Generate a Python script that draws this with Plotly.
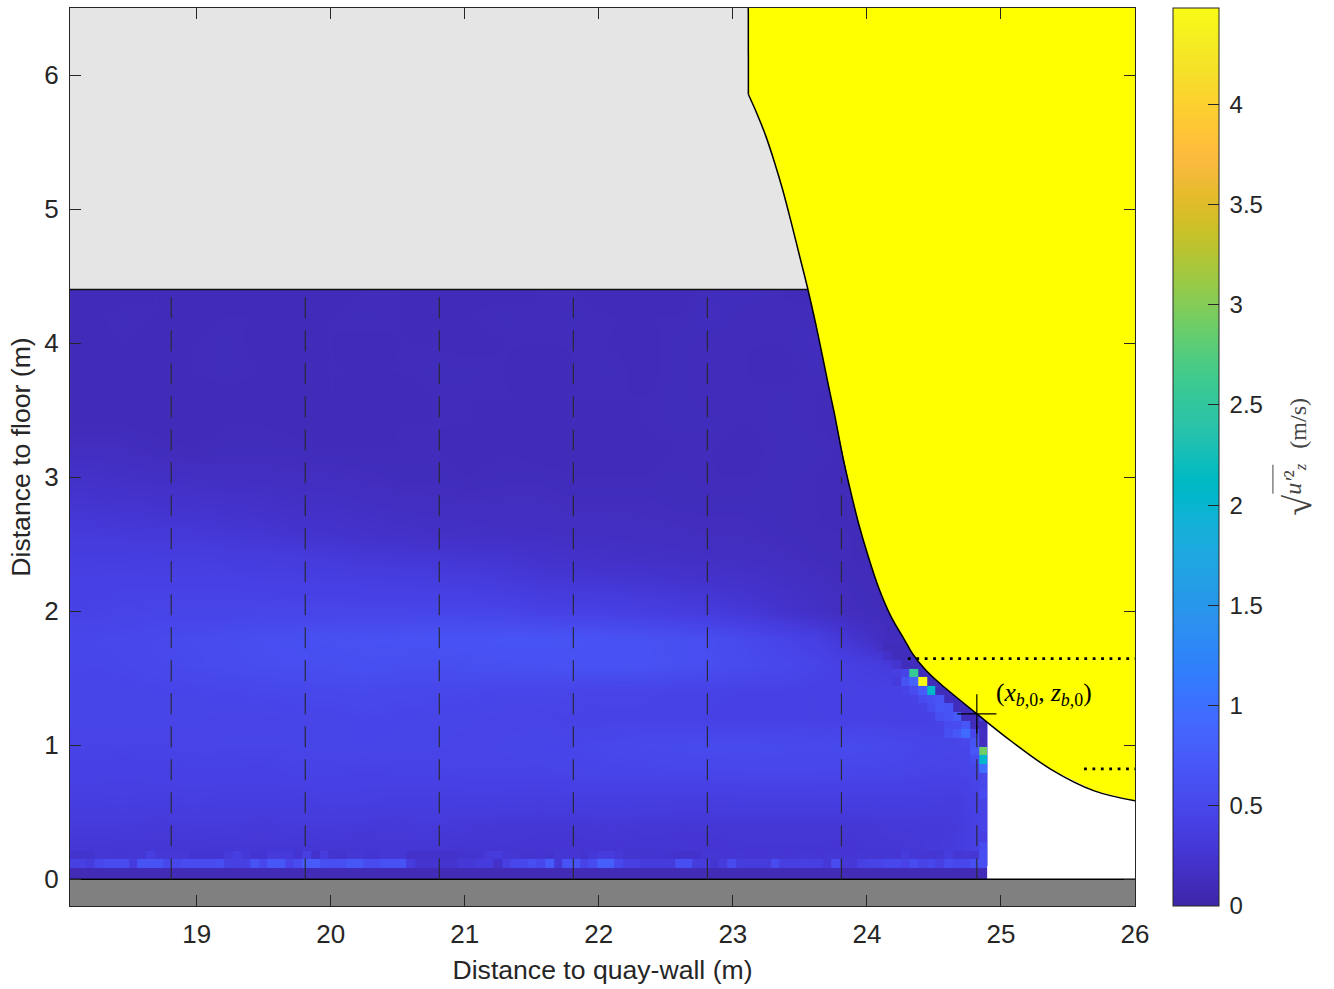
import plotly.graph_objects as go

TEXT = "#262626"
SANS = "Liberation Sans"
SERIF = "Liberation Serif"

# parula colormap
parula = [
(0.2422,0.1504,0.6603),(0.2504,0.1650,0.7076),(0.2578,0.1818,0.7511),(0.2647,0.1978,0.7952),
(0.2706,0.2147,0.8364),(0.2751,0.2342,0.8710),(0.2783,0.2559,0.8991),(0.2803,0.2782,0.9221),
(0.2813,0.3006,0.9414),(0.2810,0.3228,0.9579),(0.2795,0.3447,0.9717),(0.2760,0.3667,0.9829),
(0.2699,0.3892,0.9906),(0.2602,0.4123,0.9952),(0.2440,0.4358,0.9988),(0.2206,0.4603,0.9973),
(0.1963,0.4847,0.9892),(0.1834,0.5074,0.9798),(0.1786,0.5289,0.9682),(0.1764,0.5499,0.9520),
(0.1687,0.5703,0.9359),(0.1540,0.5902,0.9218),(0.1460,0.6091,0.9079),(0.1380,0.6276,0.8973),
(0.1248,0.6459,0.8883),(0.1113,0.6635,0.8763),(0.0952,0.6798,0.8598),(0.0689,0.6948,0.8394),
(0.0297,0.7082,0.8163),(0.0036,0.7203,0.7917),(0.0067,0.7312,0.7660),(0.0433,0.7411,0.7394),
(0.0964,0.7500,0.7120),(0.1408,0.7584,0.6842),(0.1717,0.7670,0.6554),(0.1938,0.7758,0.6251),
(0.2161,0.7843,0.5923),(0.2470,0.7918,0.5567),(0.2906,0.7973,0.5188),(0.3406,0.8008,0.4789),
(0.3909,0.8029,0.4354),(0.4456,0.8024,0.3909),(0.5044,0.7993,0.3480),(0.5616,0.7942,0.3045),
(0.6174,0.7876,0.2612),(0.6720,0.7793,0.2227),(0.7242,0.7698,0.1910),(0.7738,0.7598,0.1646),
(0.8203,0.7498,0.1535),(0.8634,0.7406,0.1596),(0.9035,0.7330,0.1774),(0.9393,0.7288,0.2100),
(0.9728,0.7298,0.2394),(0.9956,0.7434,0.2371),(0.9970,0.7659,0.2199),(0.9952,0.7893,0.2028),
(0.9892,0.8136,0.1885),(0.9786,0.8386,0.1766),(0.9676,0.8639,0.1643),(0.9610,0.8890,0.1537),
(0.9597,0.9135,0.1423),(0.9628,0.9373,0.1265),(0.9691,0.9606,0.1064),(0.9769,0.9839,0.0805)]
colorscale = [[i / 63, "rgb(%d,%d,%d)" % tuple(round(c * 255) for c in p)] for i, p in enumerate(parula)]

U_MAX = 4.48

# Velocity field (m/s x 100), coarse table
field_x = [18.18,18.44,18.70,18.96,19.22,19.48,19.74,20.00,20.26,20.51,20.77,21.03,21.29,21.55,
           21.81,22.07,22.33,22.58,22.84,23.10,23.36,23.62,23.88,24.14,24.40,24.66,24.87]
field_z = [0.2,0.4,0.6,0.8,1.0,1.2,1.4,1.6,1.8,2.0,2.2,2.4,2.6,2.8,3.0,3.2,3.4,3.6,3.8,4.0,4.2,4.4]
field_u = [
[28,27,28,27,28,28,28,27,27,28,27,26,27,27,27,26,26,26,27,27,27,27,27,28,30,34,45],
[32,32,31,32,32,31,32,32,31,31,32,30,29,28,28,30,29,28,28,29,29,29,28,30,31,32,46],
[38,39,38,39,38,38,38,39,39,38,38,38,38,37,38,38,38,37,37,38,38,38,38,38,38,36,46],
[42,41,42,43,43,42,44,44,43,44,44,45,45,45,46,47,47,48,48,49,49,49,47,47,45,44,48],
[45,45,45,45,46,46,46,46,47,46,46,45,46,47,48,50,52,53,54,54,53,52,54,52,48,46,50],
[46,46,46,46,45,45,46,46,48,47,46,46,45,45,44,44,44,44,43,42,43,42,42,42,42,44,50],
[46,46,47,47,48,49,50,51,52,50,50,49,47,47,46,45,45,44,44,43,43,42,41,42,45,55,12],
[48,49,51,53,55,57,58,59,60,59,58,60,61,62,63,64,63,60,57,54,51,46,40,35,22,12,12],
[49,50,52,54,56,58,60,61,62,63,64,64,66,66,65,64,62,60,57,52,46,40,26,13,12,12,12],
[44,45,46,46,46,47,47,47,47,47,48,48,47,43,42,41,39,36,34,30,24,18,13,11,11,11,11],
[42,43,43,43,43,42,41,41,40,39,38,37,34,31,30,29,28,26,24,22,18,15,12,11,11,11,11],
[38,38,37,37,36,35,34,32,30,29,28,27,26,23,21,19,18,17,16,15,14,12,11,10,10,10,10],
[32,31,30,30,28,27,24,23,21,19,18,17,16,16,15,15,14,14,13,13,12,11,11,10,10,10,10],
[26,25,24,23,22,20,18,18,16,15,14,14,14,14,13,13,13,12,12,12,12,11,10,10,10,10,10],
[20,18,17,16,15,15,14,14,13,12,12,11,12,12,11,11,11,12,11,11,12,11,10,10,10,10,10],
[14,14,12,11,12,12,12,11,11,11,11,10,11,10,10,10,10,11,11,10,12,12,10,10,10,10,10],
[11,11,10,10,11,11,10,10,10,11,11,11,10,10,11,10,11,12,12,11,12,11,10,10,10,10,10],
[10,10,10,10,10,10,10,11,10,10,11,11,11,11,11,11,11,12,11,11,12,11,10,10,10,10,10],
[10,10,10,11,12,11,10,11,11,11,12,12,11,10,11,12,10,12,11,11,10,12,10,10,10,10,10],
[10,11,10,11,12,10,11,11,10,11,11,10,11,11,11,11,10,12,11,11,11,13,10,10,10,10,10],
[10,12,11,10,11,11,10,11,12,11,10,11,12,11,12,11,11,11,13,11,11,12,10,10,10,10,10],
[10,10,11,10,10,10,10,10,11,11,10,10,10,11,11,10,10,10,12,13,11,10,10,10,10,10,10]]

# Near-floor rows at measured cell size (m/s), left to right
row1_u = [.42,.42,.35,.50,.55,.55,.55,.35,.65,.65,.65,.50,.50,.55,.55,.55,.55,.60,.42,.42,.42,.65,.50,.70,.70,
          .45,.55,.75,.75,.60,.60,.60,.70,.70,.55,.55,.62,.62,.62,.35,.25,.25,.25,.25,.25,
          .30,.30,.35,.35,.20,.40,.50,.50,.60,.50,.75,.30,.65,.65,.45,.55,.80,.80,.50,.40,.40,.35,.35,.35,.35,
          .60,.60,.35,.35,.25,.35,.55,.35,.35,.35,.35,.55,.40,.40,.40,.40,.40,.30,.55,.30,.30,
          .42,.45,.45,.50,.50,.45,.55,.45,.50,.40,.55,.50,.50,.60,.60]
row2_u = [.24,.24,.24,.28,.28,.28,.28,.28,.28,.38,.30,.30,.30,.30,.26,.26,.26,.26,.32,.38,.30,.26,.26,.32,.32,
          .32,.26,.40,.22,.36,.24,.24,.28,.28,.26,.26,.29,.29,.28,.20,.22,.22,.22,.22,.22,
          .24,.24,.26,.32,.36,.28,.28,.24,.24,.26,.24,.28,.27,.27,.24,.30,.36,.36,.30,.25,.25,.25,.26,.26,.24,
          .22,.22,.22,.28,.28,.27,.27,.28,.27,.27,.27,.28,.27,.27,.28,.28,.27,.28,.28,.27,.27,
          .28,.28,.27,.28,.27,.34,.29,.28,.27,.28,.36,.28,.30,.28,.60]
floor_row_u = 0.09

# Isolated cells along the bubble and wall: column from the wall, row from the floor, value
near_cells = [
(8,23,2.56),(7,22,4.48),(6,21,2.08),(0,14,2.90),(0,13,2.05),(0,12,1.00),
(9,23,.45),(10,23,.40),(8,22,.85),(9,22,.65),(10,22,.32),(7,21,.75),(8,21,.55),(9,21,.45),
(5,20,.65),(6,20,.60),(7,20,.55),(4,19,.65),(5,19,.70),(6,19,.55),(3,18,.75),(4,18,.65),(5,18,.60),
(2,17,.70),(3,17,.55),(4,17,.55),(2,16,.95),(3,16,.70),(4,16,.60),(1,16,.50),(1,15,.65),(2,15,.50),
(1,14,.70),(1,13,.55),
(0,11,.50),(0,10,.50),(0,9,.55),(0,8,.45),(0,7,.45),(0,6,.45),(0,5,.45),(0,4,.40),(0,3,.55),
(0,15,.15),(0,16,.15),(0,17,.12),(1,17,.12),(1,18,.12),(2,18,.12),(2,19,.12),(3,19,.12),
(3,20,.12),(4,20,.12),(3,21,.12),(4,21,.12),(5,21,.12),(5,22,.12),(6,22,.12),(6,23,.12),(7,23,.12),
(7,24,.12),(8,24,.12),(9,24,.12),(10,24,.25),(8,25,.12),(9,25,.12),(10,25,.12),(11,25,.20),
(9,26,.12),(10,26,.12),(11,26,.12),(12,26,.18)]

CELL = 0.0647
FIRST_ROW = 0.084
N_COLS, N_ROWS = 106, 68
WALL_X = 24.9

# Outlines in data units
bubble_x = [23.115,23.116,23.172,23.246,23.308,23.371,23.433,23.495,23.557,23.619,23.669,23.719,23.756,
            23.819,23.881,23.943,24.005,24.092,24.179,24.278,24.343,24.440,24.552,24.821,25.075,25.373,25.696,26.0]
bubble_z = [6.5,5.855,5.73,5.544,5.357,5.146,4.91,4.661,4.413,4.139,3.90,3.654,3.481,
            3.157,2.884,2.635,2.424,2.163,1.961,1.79,1.678,1.559,1.454,1.233,1.031,.82,.659,.585]
X_MIN, X_MAX, Z_MIN, Z_MAX = 18.055, 26.0, -0.2, 6.5
WATER_TOP = 4.4
profile_x = [18.81,19.81,20.81,21.81,22.81,23.81,24.82]
profile_top = [4.4,4.4,4.4,4.4,4.4,3.0,1.23]
dotted_a = ([24.306,26.0],[1.646,1.646])
dotted_b = ([25.62,26.0],[.823,.823])
impact_x, impact_z = 24.82, 1.233

x_ticks = [19,20,21,22,23,24,25,26]
z_ticks = [0,1,2,3,4,5,6]
cb_ticks = [0,.5,1,1.5,2,2.5,3,3.5,4]
cb_labels = ["0","0.5","1","1.5","2","2.5","3","3.5","4"]

fig = go.Figure()

# coarse field
fig.add_trace(go.Heatmap(
    x=field_x, y=field_z, z=[[v / 100 for v in r] for r in field_u],
    zsmooth="best", zmin=0, zmax=U_MAX, colorscale=colorscale, hoverinfo="skip",
    colorbar=dict(
        x=(1173 - 69.5) / 1065.5, xanchor="left", xpad=0, y=0, yanchor="bottom", ypad=0,
        len=1, lenmode="fraction", thickness=46, thicknessmode="pixels",
        outlinewidth=1, outlinecolor=TEXT, ticks="inside", ticklen=11, tickwidth=1, tickcolor=TEXT,
        tickvals=cb_ticks, ticktext=["\u2009" + s for s in cb_labels],
        tickfont=dict(family=SANS, size=24, color=TEXT),
        ticklabelposition="outside")))

# fine cells
x_edges = [WALL_X - CELL * (N_COLS - i) for i in range(N_COLS + 1)]
z_edges = [0.0] + [FIRST_ROW + CELL * k for k in range(N_ROWS)]
fine = [[None] * N_COLS for _ in range(N_ROWS)]
fine[0] = [floor_row_u] * N_COLS
fine[1] = list(row1_u)
fine[2] = list(row2_u)
for j, k, u in near_cells:
    fine[k][N_COLS - 1 - j] = u
fig.add_trace(go.Heatmap(x=x_edges, y=z_edges, z=fine, zmin=0, zmax=U_MAX, colorscale=colorscale,
                         showscale=False, hoverinfo="skip", hoverongaps=False))

def region(xs, zs, color):
    fig.add_trace(go.Scatter(x=xs, y=zs, mode="lines", fill="toself", fillcolor=color,
                             line=dict(color=color, width=0), hoverinfo="skip", showlegend=False))

region([WALL_X, X_MAX, X_MAX, WALL_X], [0, 0, WATER_TOP, WATER_TOP], "#ffffff")
region([X_MIN, X_MAX, X_MAX, X_MIN], [WATER_TOP, WATER_TOP, Z_MAX, Z_MAX], "#e5e5e5")
region([X_MIN, X_MAX, X_MAX, X_MIN], [Z_MIN, Z_MIN, 0, 0], "#808080")

fig.add_trace(go.Scatter(x=[X_MIN, X_MAX], y=[WATER_TOP, WATER_TOP], mode="lines",
                         line=dict(color="#111111", width=1.5), hoverinfo="skip"))
fig.add_trace(go.Scatter(x=[X_MIN, X_MAX], y=[0, 0], mode="lines",
                         line=dict(color="#000000", width=1.5), hoverinfo="skip"))

region(bubble_x + [X_MAX, X_MAX], bubble_z + [Z_MAX, bubble_z[0]], "#ffff00")
fig.add_trace(go.Scatter(x=bubble_x[:2], y=bubble_z[:2], mode="lines",
                         line=dict(color="#000000", width=1.5), hoverinfo="skip"))
fig.add_trace(go.Scatter(x=bubble_x[1:], y=bubble_z[1:], mode="lines",
                         line=dict(color="#000000", width=1.5, shape="spline", smoothing=1.0), hoverinfo="skip"))

px_, pz_ = [], []
for x, top in zip(profile_x, profile_top):
    px_ += [x, x, None]
    pz_ += [0, top, None]
fig.add_trace(go.Scatter(x=px_, y=pz_, mode="lines", hoverinfo="skip",
                         line=dict(color="rgba(40,40,40,0.9)", width=1.2, dash="21px,12px")))
for xs, zs in (dotted_a, dotted_b):
    fig.add_trace(go.Scatter(x=xs, y=zs, mode="lines", hoverinfo="skip",
                             line=dict(color="#000000", width=2.6, dash="2.8px,5.6px")))
fig.add_trace(go.Scatter(x=[impact_x], y=[impact_z], mode="markers", hoverinfo="skip",
                         marker=dict(symbol="cross-thin", size=28, line=dict(color="#000000", width=1.2))))

axis = dict(showline=True, linecolor=TEXT, linewidth=1, mirror="ticks", ticks="inside", ticklen=11,
            tickwidth=1, tickcolor=TEXT, showgrid=False, zeroline=False,
            tickfont=dict(family=SANS, size=26, color=TEXT))

def py(p):
    return (906.5 - p) / 898.5

def pxx(p):
    return (p - 69.5) / 1065.5

CB_TITLE = "#444444"
fig.update_layout(
    width=1334, height=989, autosize=False, showlegend=False,
    margin=dict(l=69.5, r=199, t=8, b=82.5, pad=0),
    paper_bgcolor="#ffffff", plot_bgcolor="#ffffff",
    xaxis=dict(axis, range=[X_MIN, X_MAX], tickvals=x_ticks, ticklabelstandoff=5,
               title=dict(text="Distance to quay-wall (m)", font=dict(family=SANS, size=26.6, color=TEXT), standoff=12)),
    yaxis=dict(axis, range=[Z_MIN, Z_MAX], tickvals=z_ticks, ticklabelstandoff=5,
               title=dict(text="Distance to floor (m)", font=dict(family=SANS, size=26.6, color=TEXT), standoff=6)),
    annotations=[
        dict(x=24.95, y=1.38, xref="x", yref="y", xanchor="left", yanchor="middle", showarrow=False,
             text="(<i>x</i><sub><i>b</i>,0</sub>, <i>z</i><sub><i>b</i>,0</sub>)",
             font=dict(family=SERIF, size=25.5, color="#000000")),
        dict(x=pxx(1298), y=py(423), xref="paper", yref="paper", textangle=-90, showarrow=False,
             xanchor="center", yanchor="middle", text="(m/s)",
             font=dict(family=SERIF, size=24, color=CB_TITLE)),
        dict(x=pxx(1295), y=py(479), xref="paper", yref="paper", textangle=-90, showarrow=False,
             xanchor="center", yanchor="middle", text="<i>u′</i>²<sub><i>z</i></sub>",
             font=dict(family=SERIF, size=24, color=CB_TITLE)),
        dict(x=pxx(1298), y=py(505), xref="paper", yref="paper", textangle=-90, showarrow=False,
             xanchor="center", yanchor="middle", text="√",
             font=dict(family=SERIF, size=38, color=CB_TITLE)),
    ],
    shapes=[
        dict(type="line", xref="paper", yref="paper", x0=pxx(1273), x1=pxx(1273), y0=py(494), y1=py(465),
             line=dict(color=CB_TITLE, width=1)),
        dict(type="line", xref="paper", yref="paper", x0=pxx(1175), x1=pxx(1217), y0=py(860), y1=py(20),
             line=dict(color="rgba(255,255,255,0.35)", width=1)),
    ],
)

fig.write_html("out.html", config={"displayModeBar": False},
               post_script="document.body.style.margin='0';document.body.style.overflow='hidden';")
